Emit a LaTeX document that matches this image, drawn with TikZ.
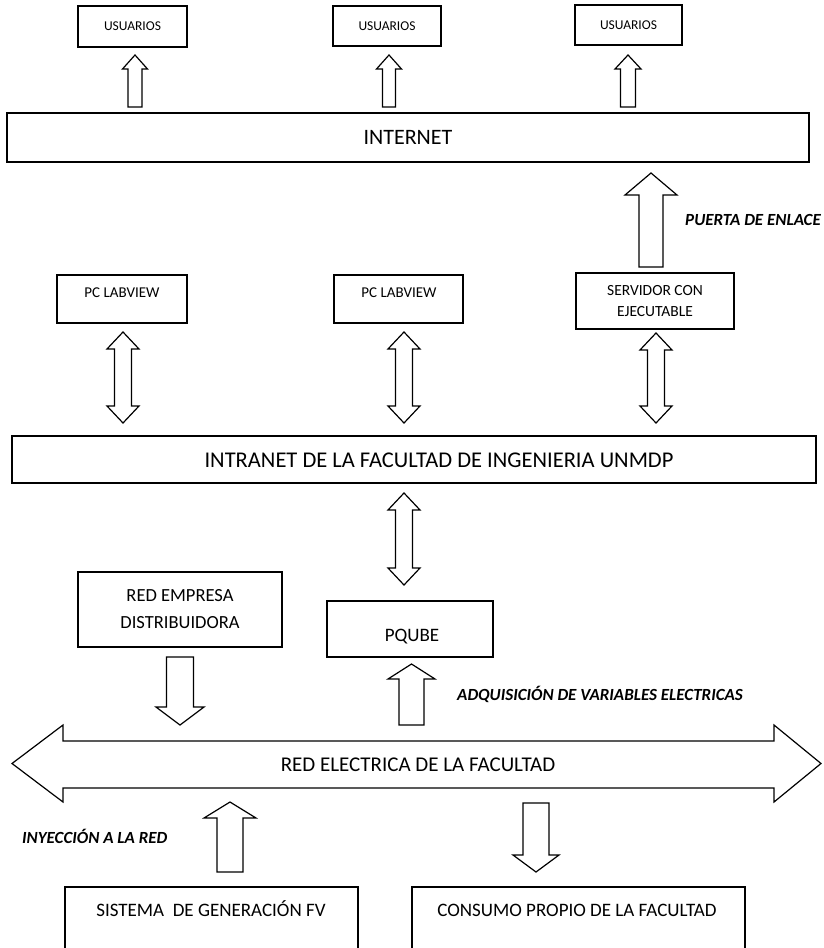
\documentclass[tikz,border=0pt]{standalone}
\usepackage{fontspec}
\setmainfont{Carlito}
\newcommand\mkbox[7][]{\node[box,#1, minimum width={#5-#3}, minimum height={#6-#4}] (#2) at ({(#3+#5)/2},{(#4+#6)/2}) {#7};}
% up arrow: cx, ytop, ybot, shaft half width, head half width, head length
\newcommand\blkup[6]{\draw[arr] (#1-#4,#3) -- (#1-#4,#2+#6) -- (#1-#5,#2+#6) -- (#1,#2) -- (#1+#5,#2+#6) -- (#1+#4,#2+#6) -- (#1+#4,#3) -- cycle;}
\newcommand\blkdown[6]{\draw[arr] (#1-#4,#2) -- (#1+#4,#2) -- (#1+#4,#3-#6) -- (#1+#5,#3-#6) -- (#1,#3) -- (#1-#5,#3-#6) -- (#1-#4,#3-#6) -- cycle;}
\newcommand\blkdbl[6]{\draw[arr] (#1,#2) -- (#1+#5,#2+#6) -- (#1+#4,#2+#6) -- (#1+#4,#3-#6) -- (#1+#5,#3-#6) -- (#1,#3) -- (#1-#5,#3-#6) -- (#1-#4,#3-#6) -- (#1-#4,#2+#6) -- (#1-#5,#2+#6) -- cycle;}
\begin{document}
\begin{tikzpicture}[x=1pt,y=-1pt,
  box/.style={draw,line width=1.2pt,inner sep=0pt,rectangle,align=center},
  arr/.style={draw,line width=1.2pt,fill=white,line join=miter},
  txt/.style={inner sep=0pt,align=center},
  lbl/.style={font=\fontsize{17}{19}\selectfont\bfseries\itshape,inner sep=0pt}]
\clip (0,0) rectangle (824,948);
\fill[white] (0,0) rectangle (824,948);

% top users
\mkbox[font=\fontsize{13.5}{15}\selectfont]{u1}{78}{6}{187}{47}{USUARIOS}
\mkbox[font=\fontsize{13.5}{15}\selectfont]{u2}{333}{6}{441}{46}{USUARIOS}
\mkbox[font=\fontsize{13.5}{15}\selectfont]{u3}{575}{5}{682}{45}{USUARIOS}
\blkup{135}{55}{107}{7}{12.5}{14}
\blkup{389}{55}{107}{6.5}{12.5}{14}
\blkup{628}{55}{107}{7.5}{13}{14}

% internet
\mkbox[font=\fontsize{22}{26}\selectfont]{inet}{7}{113}{809}{162}{INTERNET}

% gateway
\blkup{651}{173}{267}{12}{26}{22}
\node[lbl,anchor=west] (pe) at (685,220) {PUERTA DE ENLACE};

% PCs and server
\mkbox{pc1}{57}{275}{187}{323}{}
\node[txt,font=\fontsize{15}{17}\selectfont] (pc1t) at (122,293) {PC LABVIEW};
\mkbox{pc2}{334}{275}{463}{323}{}
\node[txt,font=\fontsize{15}{17}\selectfont] (pc2t) at (399,293) {PC LABVIEW};
\mkbox[font=\fontsize{15.5}{21}\selectfont]{srv}{576}{273}{734}{329}{SERVIDOR CON\\EJECUTABLE}

\blkdbl{123}{332}{423}{8.5}{16}{17}
\blkdbl{404}{332}{423}{8.5}{16}{17}
\blkdbl{656}{333}{423}{8.5}{16}{17}

% intranet
\mkbox{intra}{12}{436}{816}{483}{}
\node[txt,font=\fontsize{22.5}{26}\selectfont] (intrat) at (439,460) {INTRANET DE LA FACULTAD DE INGENIERIA UNMDP};

\blkdbl{404}{493}{585}{8.5}{16}{17}

% red empresa, pqube
\mkbox[font=\fontsize{18.5}{27}\selectfont]{emp}{78}{572}{282}{647}{RED EMPRESA\\DISTRIBUIDORA}
\mkbox{pq}{327}{601}{493}{657}{}
\node[txt,font=\fontsize{19}{22}\selectfont,anchor=base] (pqt) at (412,641) {PQUBE};

\blkdown{180}{657}{725}{13.5}{24}{18}
\blkup{411.5}{664}{725}{12.5}{23.5}{15}
\node[lbl,anchor=base west] (adq) at (457,700) {ADQUISICIÓN DE VARIABLES ELECTRICAS};

% red electrica (double horizontal arrow)
\draw[arr] (12,763.5) -- (63,725) -- (63,741) -- (774,741) -- (774,725) -- (821,763.5) -- (774,802) -- (774,788) -- (63,788) -- (63,802) -- cycle;
\node[txt,font=\fontsize{21}{25}\selectfont] (redel) at (418,765) {RED ELECTRICA DE LA FACULTAD};

\blkup{230}{802}{872}{13}{26}{16}
\node[lbl,anchor=base west] (iny) at (22,843) {INYECCIÓN A LA RED};
\blkdown{536}{803}{872}{13}{23}{17}

% bottom boxes
\mkbox{sis}{65}{887}{358}{962}{}
\node[txt,font=\fontsize{19}{22}\selectfont,anchor=base] (sist) at (211,916) {SISTEMA \ DE GENERACIÓN FV};
\mkbox{con}{412}{887}{745}{962}{}
\node[txt,font=\fontsize{19}{22}\selectfont,anchor=base] (cont) at (577,916) {CONSUMO PROPIO DE LA FACULTAD};
\end{tikzpicture}
\end{document}
